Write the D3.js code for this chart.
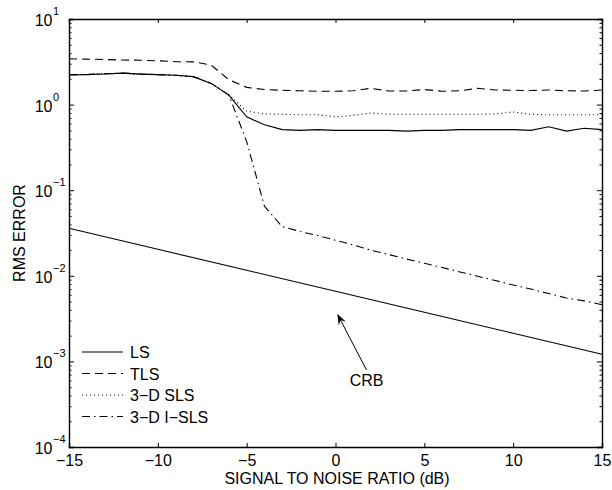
<!DOCTYPE html>
<html>
<head>
<meta charset="utf-8">
<script src="https://cdn.jsdelivr.net/npm/d3@7"></script>
<style>
  body { margin: 0; background: #fff; }
  text { font-family: "Liberation Sans", Arial, Helvetica, sans-serif; fill: #000; }
  .axis path { stroke: #000; stroke-width: 1.4; }
  .axis line { stroke: #000; }
</style>
</head>
<body>
<div id="chart"></div>
<script>
// SNR in dB, one point per dB
var snr = d3.range(-15, 16);

var ls = [2.22, 2.24, 2.28, 2.33, 2.27, 2.24, 2.2, 2.12, 1.77, 1.29, 0.72, 0.58, 0.51,
          0.5, 0.51, 0.5, 0.5, 0.5, 0.5, 0.49, 0.5, 0.5, 0.51, 0.51, 0.51, 0.51, 0.5, 0.55, 0.49, 0.53, 0.51];
var tls = [3.43, 3.4, 3.36, 3.32, 3.3, 3.25, 3.17, 3.16, 2.9, 1.95, 1.59, 1.5, 1.47,
           1.45, 1.43, 1.43, 1.45, 1.55, 1.44, 1.44, 1.5, 1.43, 1.45, 1.55, 1.48, 1.47, 1.46, 1.48, 1.45, 1.44, 1.48];
var sls = [2.24, 2.25, 2.28, 2.32, 2.27, 2.24, 2.2, 2.12, 1.77, 1.3, 0.84, 0.78, 0.77,
           0.76, 0.76, 0.72, 0.75, 0.8, 0.77, 0.77, 0.77, 0.77, 0.77, 0.77, 0.78, 0.82, 0.77, 0.76, 0.76, 0.76, 0.76];
var isls = [2.23, 2.25, 2.29, 2.34, 2.28, 2.24, 2.2, 2.12, 1.77, 1.29, 0.37, 0.065, 0.0375,
            0.033, 0.0295, 0.026, 0.0229, 0.0199, 0.0177, 0.0157, 0.014, 0.0125, 0.0111, 0.0099, 0.0088, 0.0078, 0.007, 0.0062, 0.0055, 0.0051, 0.0046];

// Cramer-Rao bound (straight line on the log plot)
var crbSnr = [-15, -10, -5, 0, 5, 10, 15];
var crb = [0.0359, 0.0204, 0.0116, 0.0066, 0.00375, 0.00213, 0.00121];

var seriesNames = ["LS", "TLS", "3\u2212D SLS", "3\u2212D I\u2212SLS"];
var seriesDash = [null, "8,5", "1,3", "8,4,1.5,4"];
var series = [ls, tls, sls, isls];

var xTicks = [-15, -10, -5, 0, 5, 10, 15];
var xTickLabels = ["\u221215", "\u221210", "\u22125", "0", "5", "10", "15"];
var yDecades = [-4, -3, -2, -1, 0, 1];

// arrow annotation: head and tail in data coordinates
var arrowHead = [0.1, 0.0036];
var arrowTail = [1.75, 0.00079];
var crbLabelPos = [1.75, 0.00052];

var w = 612, h = 490;
var padL = 69, padR = 602, padT = 19, padB = 447; // plot box edges

var svg = d3.select("#chart").append("svg")
  .attr("width", w)
  .attr("height", h);

var x = d3.scaleLinear().domain([-15, 15]).range([padL, padR]);
var y = d3.scaleLog().domain([1e-4, 10]).range([padB, padT]);

// minor ticks 2..9 in every decade
var minor = [];
yDecades.slice(0, -1).forEach(function(e) {
  for (var k = 2; k <= 9; k++) minor.push(k * Math.pow(10, e));
});
var major = yDecades.map(function(e) { return Math.pow(10, e); });

// plot lines
var line = d3.line()
  .x(function(d) { return x(d[0]); })
  .y(function(d) { return y(d[1]); });

var g = svg.append("g");

series.forEach(function(s, i) {
  g.append("path")
    .datum(d3.zip(snr, s))
    .attr("d", line)
    .attr("fill", "none")
    .attr("stroke", "#000")
    .attr("stroke-width", 1.1)
    .attr("stroke-dasharray", seriesDash[i]);
});

g.append("path")
  .datum(d3.zip(crbSnr, crb))
  .attr("d", line)
  .attr("fill", "none")
  .attr("stroke", "#000")
  .attr("stroke-width", 1.1);

// axes (ticks point inward)
svg.append("g").attr("class", "axis")
  .attr("transform", "translate(0," + padB + ")")
  .call(d3.axisBottom(x).tickValues(xTicks).tickSize(-4).tickPadding(8)
    .tickFormat(function(d, i) { return xTickLabels[i]; }))
  .call(function(a) {
    a.selectAll("text").attr("font-size", 16).attr("font-family", null)
      .attr("y", 19).attr("dy", null);
  });

svg.append("g").attr("class", "axis")
  .attr("transform", "translate(0," + padT + ")")
  .call(d3.axisTop(x).tickValues(xTicks).tickSize(-4).tickFormat(""));

svg.append("g").attr("class", "axis")
  .attr("transform", "translate(" + padL + ",0)")
  .call(d3.axisLeft(y).tickValues(major).tickSize(-5).tickFormat(""));
svg.append("g").attr("class", "axis")
  .attr("transform", "translate(" + padL + ",0)")
  .call(d3.axisLeft(y).tickValues(minor).tickSize(-2.5).tickFormat(""))
  .call(function(a) { a.select("path").remove(); });
svg.append("g").attr("class", "axis")
  .attr("transform", "translate(" + padR + ",0)")
  .call(d3.axisRight(y).tickValues(major).tickSize(-5).tickFormat(""));
svg.append("g").attr("class", "axis")
  .attr("transform", "translate(" + padR + ",0)")
  .call(d3.axisRight(y).tickValues(minor).tickSize(-2.5).tickFormat(""))
  .call(function(a) { a.select("path").remove(); });

// y tick labels as 10^n
yDecades.forEach(function(e) {
  svg.append("text")
    .attr("x", 52.5)
    .attr("y", y(Math.pow(10, e)) + 7)
    .attr("text-anchor", "end")
    .attr("font-size", 16)
    .text("10");
  svg.append("text")
    .attr("x", 53)
    .attr("y", y(Math.pow(10, e)) - 4)
    .attr("font-size", 11)
    .text(e < 0 ? "\u2212" + (-e) : e);
});

// axis titles
svg.append("text")
  .attr("x", 337)
  .attr("y", 483.5)
  .attr("text-anchor", "middle")
  .attr("font-size", 16)
  .text("SIGNAL TO NOISE RATIO (dB)");

svg.append("text")
  .attr("transform", "translate(25," + ((padT + padB) / 2) + ") rotate(-90)")
  .attr("text-anchor", "middle")
  .attr("font-size", 16)
  .text("RMS ERROR");

// legend
var leg = svg.append("g");
seriesNames.forEach(function(name, i) {
  var ly = 352 + i * 21.5;
  leg.append("line")
    .attr("x1", 82).attr("x2", 123)
    .attr("y1", ly).attr("y2", ly)
    .attr("stroke", "#000")
    .attr("stroke-width", 1.1)
    .attr("stroke-dasharray", seriesDash[i]);
  leg.append("text")
    .attr("x", 130)
    .attr("y", ly + 6)
    .attr("font-size", 16)
    .text(name);
});

// CRB arrow
var hx = x(arrowHead[0]), hy = y(arrowHead[1]);
var tx = x(arrowTail[0]), ty = y(arrowTail[1]);
var ang = Math.atan2(hy - ty, hx - tx);
var hl = 11, hw = 4;
svg.append("line")
  .attr("x1", tx).attr("y1", ty)
  .attr("x2", hx - Math.cos(ang) * 6).attr("y2", hy - Math.sin(ang) * 6)
  .attr("stroke", "#000")
  .attr("stroke-width", 1);
var bx = hx - Math.cos(ang) * hl, by = hy - Math.sin(ang) * hl;
svg.append("path")
  .attr("d", "M" + hx + "," + hy +
    "L" + (bx + Math.sin(ang) * hw) + "," + (by - Math.cos(ang) * hw) +
    "L" + (hx - Math.cos(ang) * 7) + "," + (hy - Math.sin(ang) * 7) +
    "L" + (bx - Math.sin(ang) * hw) + "," + (by + Math.cos(ang) * hw) + "Z")
  .attr("fill", "#000");

svg.append("text")
  .attr("x", x(crbLabelPos[0]))
  .attr("y", y(crbLabelPos[1]))
  .attr("text-anchor", "middle")
  .attr("font-size", 16)
  .text("CRB");
</script>
</body>
</html>
